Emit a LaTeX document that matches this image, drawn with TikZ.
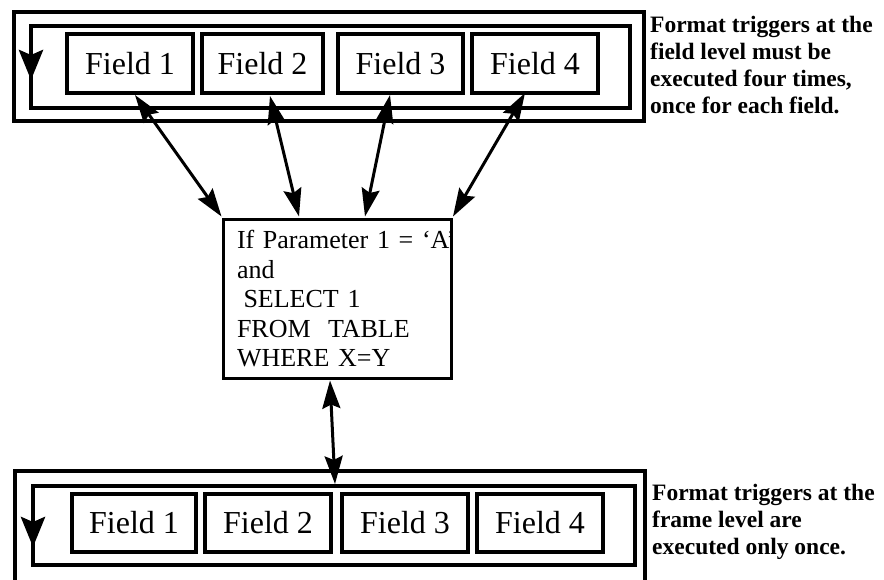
\documentclass[tikz,border=0pt]{standalone}
\usepackage{fontspec}
\setmainfont{Liberation Serif}
\usetikzlibrary{arrows.meta,calc}
\begin{document}
\begin{tikzpicture}[x=1pt,y=-1pt,
  framebox/.style={draw,line width=4.5pt,inner sep=0,outer sep=0},
  fieldbox/.style={framebox,font=\fontsize{32}{36}\selectfont},
  condbox/.style={draw,line width=3pt,inner sep=0,outer sep=0,minimum width=228pt,minimum height=159pt,text width=201pt,align=left,font=\fontsize{26}{29.5}\selectfont},
  biarrow/.style={line width=3pt,{Stealth[length=28pt,width=18pt,inset=4pt]}-{Stealth[length=28pt,width=18pt,inset=4pt]}},
  cyclearrow/.style={line width=4.5pt,-{Stealth[length=30pt,width=24pt,inset=5pt]}},
  notetext/.style={inner sep=0,anchor=north west,align=left,font=\bfseries\fontsize{23.5}{27}\selectfont}]
\clip (0,0) rectangle (884,579);
\fill[white] (0,0) rectangle (884,579);
% top frame
\node[framebox,minimum width=630pt,minimum height=109pt] (ot) at (329,66.5) {};
\node[framebox,minimum width=599pt,minimum height=82pt] (it) at (330.5,67) {};
\node[fieldbox,minimum width=126pt,minimum height=59pt] (f1) at (130,63.5) {Field 1};
\node[fieldbox,minimum width=121pt,minimum height=59pt] (f2) at (262.5,63.5) {Field 2};
\node[fieldbox,minimum width=125pt,minimum height=59pt] (f3) at (400.5,63.5) {Field 3};
\node[fieldbox,minimum width=126pt,minimum height=59pt] (f4) at (535,63.5) {Field 4};
% bottom frame
\node[framebox,minimum width=630pt,minimum height=129pt] (ob) at (330,535.5) {};
\node[framebox,minimum width=602pt,minimum height=79pt] (ib) at (334,525.5) {};
\node[fieldbox,minimum width=124pt,minimum height=58pt] (g1) at (134,523) {Field 1};
\node[fieldbox,minimum width=126pt,minimum height=58pt] (g2) at (268,523) {Field 2};
\node[fieldbox,minimum width=126pt,minimum height=58pt] (g3) at (405,523) {Field 3};
\node[fieldbox,minimum width=126pt,minimum height=58pt] (g4) at (540,523) {Field 4};
% condition box
\node[condbox] (m) at (337.5,299) {\mbox{If Parameter 1 = ‘A’}\\\mbox{and}\\\mbox{\hspace*{0.25em}SELECT 1}\\\mbox{FROM\ \ TABLE}\\\mbox{WHERE X=Y}};
% notes
\node[notetext] (n1) at (650,16) {Format triggers at the\\field level must be\\executed four times,\\once for each field.};
\node[notetext] (n2) at (652,484) {Format triggers at the\\frame level are\\executed only once.};
% connectors
\draw[biarrow] ($(f1.south)+(5,2)$) -- ($(m.north west)+(-2,-3)$);
\draw[biarrow] ($(f2.south)+(7.5,3)$) -- ($(m.north)+(-38.5,-3)$);
\draw[biarrow] ($(f3.south)+(-10.5,2)$) -- ($(m.north)+(27.5,-3)$);
\draw[biarrow] ($(f4.south)+(-10,0)$) -- ($(m.north east)+(1.5,-3)$);
\draw[biarrow] ($(m.south)+(-7.5,2)$) -- ($(ib.north)+(1,-2)$);
% loop direction arrows
\draw[cyclearrow] ($(it.north west)+(0,14)$) -- ($(it.north west)+(0,54)$);
\draw[cyclearrow] ($(ib.north west)+(0,21)$) -- ($(ib.north west)+(0,61)$);
\end{tikzpicture}
\end{document}
